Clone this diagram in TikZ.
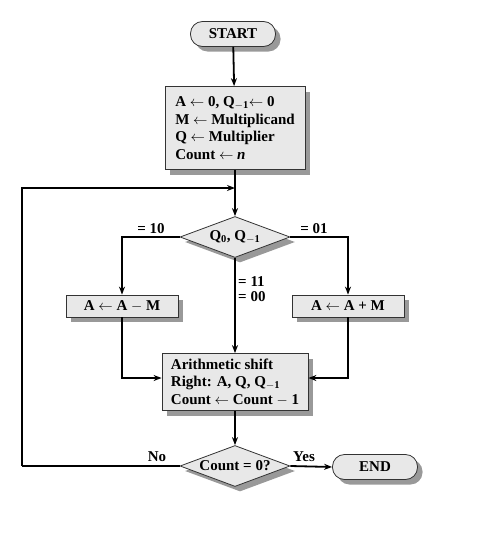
\documentclass[tikz,border=0pt]{standalone}
\usepackage{fontspec}
\setmainfont{Liberation Serif}
\usetikzlibrary{shapes.geometric,shadows,arrows.meta}
\begin{document}
\begin{tikzpicture}[x=1pt,y=-1pt,
  font=\fontsize{15}{17.5}\selectfont\bfseries,
  shad/.style={drop shadow={shadow xshift=5pt,shadow yshift=-5pt,fill=black!40,opacity=1}},
  boxnode/.style={draw=black!80,line width=0.8pt,fill=black!9,shad,inner xsep=4pt,inner ysep=2pt},
  termnode/.style={boxnode,rounded corners=12pt,minimum width=85pt,minimum height=25pt},
  rectnode/.style={boxnode,rectangle},
  decnode/.style={boxnode,diamond,shape aspect=2.68,inner sep=0pt,minimum width=110pt,minimum height=41pt},
  flow/.style={line width=1.8pt,-{Stealth[length=8pt,width=6pt]}},
  flowline/.style={line width=1.8pt},
  lbl/.style={inner sep=0pt}]
\useasboundingbox (0,0) rectangle (477,552);
\node[termnode] (start) at (233,34) {START};
\node[rectnode,minimum width=140pt,minimum height=83pt,align=left] (init) at (235,128)
  {A $\leftarrow$ 0, Q\textsubscript{$\mathbf{-1}$}$\leftarrow$ 0\\M $\leftarrow$ Multiplicand\\Q $\leftarrow$ Multiplier\\Count $\leftarrow$ \textit{n}};
\node[decnode] (d1) at (235,237) {Q\textsubscript{0}, Q\textsubscript{$\mathbf{-1}$}};
\node[rectnode,minimum width=112pt,minimum height=22pt] (lbox) at (122,306) {A $\leftarrow$ A $-$ M};
\node[rectnode,minimum width=112pt,minimum height=22pt] (rbox) at (348,306) {A $\leftarrow$ A + M};
\node[rectnode,minimum width=146pt,minimum height=57pt,align=left] (shift) at (235,382)
  {Arithmetic shift\\Right: A, Q, Q\textsubscript{$\mathbf{-1}$}\\Count $\leftarrow$ Count $-$ 1};
\node[decnode] (d2) at (235,466) {Count = 0?};
\node[termnode] (end) at (375,467) {END};
\coordinate (m) at (235,188);
\coordinate (lp) at (22,466);
\draw[flow] (start) -- (init);
\draw[flow] (init) -- (d1);
\draw[flowline] (d2.west) -- (lp);
\draw[flow] (lp) |- (m);
\draw[flow] (d1.west) -| (lbox.north);
\draw[flow] (d1.east) -| (rbox.north);
\draw[flow] (d1.south) -- (shift.north);
\draw[flow] (lbox.south) |- ([yshift=4pt]shift.west);
\draw[flow] (rbox.south) |- ([yshift=4pt]shift.east);
\draw[flow] (shift) -- (d2);
\draw[flow] (d2.east) -- (end.west);
\node[lbl] (l10) at (151,229) {= 10};
\node[lbl] (l01) at (314,229) {= 01};
\node[lbl,anchor=west,align=left,font=\fontsize{15}{15.5}\selectfont\bfseries] (l11) at (238,289) {= 11\\= 00};
\node[lbl] (lno) at (157,457) {No};
\node[lbl] (lyes) at (304,457) {Yes};
\end{tikzpicture}
\end{document}
